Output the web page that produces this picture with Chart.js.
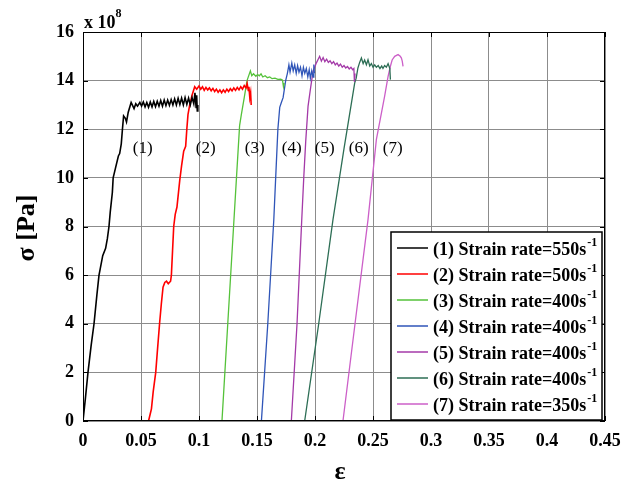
<!DOCTYPE html>
<html>
<head>
<meta charset="utf-8">
<script src="https://cdn.jsdelivr.net/npm/chart.js@4.4.1/dist/chart.umd.min.js"></script>
<style>
body { margin: 0; background: #fff; }
#wrap { width: 634px; height: 486px; }
</style>
</head>
<body>
<div id="wrap"><canvas id="stressChart" width="634" height="486"></canvas></div>
<script>
// strain / stress (x 1e8 Pa) for each test
const curve1 = [[0,0],[0.002,0.9],[0.0043,2.0],[0.007,3.1],[0.0095,4.0],[0.012,5.2],[0.0138,6.0],[0.015,6.3],[0.017,6.8],[0.0195,7.1],[0.021,7.5],[0.0224,8.0],[0.0235,8.6],[0.0253,9.4],[0.026,10.0],[0.028,10.4],[0.0305,10.9],[0.0316,11.0],[0.033,11.4],[0.034,12.0],[0.035,12.55],[0.0365,12.45],[0.0375,12.3],[0.039,12.7],[0.0415,13.1],[0.0425,13.0],[0.044,12.85],[0.0455,13.05],[0.047,12.95],[0.049,13.1],[0.0505,12.95],[0.052,13.12],[0.0535,12.92],[0.055,13.1],[0.0565,12.9],[0.058,13.12],[0.0595,12.92],[0.061,13.15],[0.0625,12.93],[0.064,13.15],[0.0655,12.95],[0.067,13.18],[0.0685,12.95],[0.07,13.2],[0.0715,12.97],[0.073,13.2],[0.0745,12.98],[0.076,13.22],[0.0775,13.0],[0.079,13.25],[0.0805,13.0],[0.082,13.27],[0.0835,13.02],[0.085,13.28],[0.0865,13.0],[0.088,13.3],[0.0895,13.02],[0.091,13.28],[0.0925,13.0],[0.094,13.3],[0.0955,13.05],[0.0965,13.5],[0.0975,12.9],[0.098,13.4],[0.0985,12.75],[0.099,13.0]];
const curve2 = [[0.0565,0],[0.058,0.3],[0.059,0.5],[0.0605,1.2],[0.0627,2.0],[0.064,2.8],[0.066,4.0],[0.0675,4.8],[0.069,5.5],[0.0705,5.7],[0.072,5.75],[0.0735,5.65],[0.0755,5.75],[0.0762,6.0],[0.0772,7.0],[0.0782,8.0],[0.0795,8.5],[0.081,8.8],[0.0834,9.9],[0.085,10.5],[0.0868,11.1],[0.0885,11.3],[0.0895,12.0],[0.0905,12.6],[0.092,13.0],[0.094,13.4],[0.0963,13.75],[0.098,13.65],[0.1,13.78],[0.1015,13.65],[0.103,13.75],[0.1045,13.6],[0.106,13.72],[0.1075,13.62],[0.109,13.7],[0.1105,13.58],[0.112,13.68],[0.1135,13.55],[0.115,13.65],[0.1165,13.52],[0.118,13.62],[0.1195,13.5],[0.121,13.62],[0.1225,13.52],[0.124,13.65],[0.1255,13.55],[0.127,13.67],[0.1285,13.58],[0.13,13.7],[0.1315,13.6],[0.133,13.72],[0.1345,13.62],[0.136,13.75],[0.1375,13.65],[0.139,13.8],[0.1405,13.7],[0.1415,13.88],[0.1425,13.6],[0.143,13.75],[0.1438,13.3],[0.1445,13.5],[0.145,13.0]];
const curve3 = [[0.1198,0],[0.1248,4],[0.1298,8],[0.1323,10],[0.135,12.15],[0.1365,12.6],[0.139,13.3],[0.1414,14.0],[0.1443,14.4],[0.1455,14.2],[0.147,14.28],[0.149,14.18],[0.1505,14.25],[0.152,14.2],[0.1535,14.28],[0.155,14.15],[0.157,14.2],[0.159,14.12],[0.161,14.15],[0.163,14.08],[0.1655,14.1],[0.168,14.05],[0.1705,14.06],[0.172,14.02],[0.1728,13.75],[0.1735,13.9]];
const curve4 = [[0.1538,0],[0.1593,4],[0.1645,8.3],[0.1661,10],[0.168,12.0],[0.1696,12.9],[0.171,13.1],[0.1725,13.3],[0.1747,14.0],[0.1762,14.3],[0.1775,14.65],[0.1785,14.35],[0.18,14.72],[0.1812,14.4],[0.1825,14.65],[0.1838,14.3],[0.185,14.62],[0.1862,14.35],[0.1875,14.55],[0.1888,14.2],[0.19,14.55],[0.1912,14.3],[0.1925,14.5],[0.1938,14.15],[0.195,14.45],[0.196,14.1],[0.1972,14.4],[0.1983,14.15],[0.199,14.66],[0.1995,14.3]];
const curve5 = [[0.1796,0],[0.1845,4],[0.1885,8.2],[0.1903,10],[0.192,11.5],[0.194,12.94],[0.1962,13.7],[0.1983,14.38],[0.2012,14.73],[0.204,15.0],[0.2055,14.8],[0.207,14.95],[0.2085,14.78],[0.21,14.88],[0.2115,14.75],[0.213,14.82],[0.2145,14.7],[0.216,14.78],[0.2175,14.65],[0.219,14.72],[0.2205,14.6],[0.222,14.68],[0.2235,14.55],[0.225,14.62],[0.2265,14.52],[0.228,14.58],[0.2295,14.48],[0.231,14.55],[0.2325,14.45],[0.2335,14.5],[0.234,13.95],[0.2345,14.3]];
const curve6 = [[0.1911,0],[0.2032,4],[0.2155,8.28],[0.225,11.2],[0.2342,13.9],[0.2355,14.1],[0.237,14.52],[0.2385,14.75],[0.24,14.93],[0.2415,14.7],[0.2428,14.85],[0.2443,14.65],[0.2457,14.86],[0.2472,14.6],[0.2486,14.7],[0.25,14.55],[0.2515,14.65],[0.2529,14.55],[0.2545,14.62],[0.256,14.5],[0.2575,14.6],[0.2586,14.5],[0.26,14.62],[0.2615,14.55],[0.263,14.7],[0.2645,14.5],[0.265,14.04]];
const curve7 = [[0.2241,0],[0.2345,4],[0.2457,8.28],[0.2529,11.57],[0.26,13.35],[0.263,14.17],[0.265,14.59],[0.2665,14.85],[0.2687,15.0],[0.2716,15.07],[0.2735,15.0],[0.2745,14.93],[0.2752,14.8],[0.2759,14.59]];

const curves = [curve1, curve2, curve3, curve4, curve5, curve6, curve7];
const colors = ['#000000', '#ff0000', '#55c23a', '#2f55b8', '#a43aa8', '#2d6e55', '#cc5fc8'];
const widths = [1.6, 1.6, 1.3, 1.3, 1.3, 1.3, 1.3];
const legendLabels = ['(1) Strain rate=550s', '(2) Strain rate=500s', '(3) Strain rate=400s', '(4) Strain rate=400s', '(5) Strain rate=400s', '(6) Strain rate=400s', '(7) Strain rate=350s'];

// curve tags placed inside the plot
const tagText = ['(1)', '(2)', '(3)', '(4)', '(5)', '(6)', '(7)'];
const tagX = [0.0515, 0.1058, 0.148, 0.1799, 0.2084, 0.2377, 0.267];
const tagY = 11.2;

const xTicks = [0, 0.05, 0.1, 0.15, 0.2, 0.25, 0.3, 0.35, 0.4, 0.45];
const xTickLabels = ['0', '0.05', '0.1', '0.15', '0.2', '0.25', '0.3', '0.35', '0.4', '0.45'];
const yTicks = [0, 2, 4, 6, 8, 10, 12, 14, 16];

const serif = '"Liberation Serif", "Times New Roman", serif';

const decorations = {
    id: 'decorations',
    afterDraw(chart) {
        const ctx = chart.ctx;
        const area = chart.chartArea;
        const xs = chart.scales.x;
        const ys = chart.scales.y;
        ctx.save();

        // box around the plot with inward ticks
        ctx.strokeStyle = '#000';
        ctx.lineWidth = 1;
        ctx.strokeRect(area.left + 0.5, area.top + 0.5, area.right - area.left - 1, area.bottom - area.top - 1);
        ctx.beginPath();
        xTicks.forEach(v => {
            const px = Math.round(xs.getPixelForValue(v)) + 0.5;
            ctx.moveTo(px, area.bottom); ctx.lineTo(px, area.bottom - 5);
            ctx.moveTo(px, area.top); ctx.lineTo(px, area.top + 5);
        });
        yTicks.forEach(v => {
            const py = Math.round(ys.getPixelForValue(v)) + 0.5;
            ctx.moveTo(area.left, py); ctx.lineTo(area.left + 5, py);
            ctx.moveTo(area.right, py); ctx.lineTo(area.right - 5, py);
        });
        ctx.stroke();

        // curve tags
        ctx.fillStyle = '#000';
        ctx.font = '17px ' + serif;
        ctx.textAlign = 'center';
        ctx.textBaseline = 'middle';
        tagText.forEach((t, i) => {
            ctx.fillText(t, xs.getPixelForValue(tagX[i]), ys.getPixelForValue(tagY));
        });

        // exponent above the y axis
        ctx.textAlign = 'left';
        ctx.textBaseline = 'alphabetic';
        ctx.font = 'bold 18px ' + serif;
        ctx.fillText('x 10', area.left + 1, 28);
        const w = ctx.measureText('x 10').width;
        ctx.font = 'bold 12px ' + serif;
        ctx.fillText('8', area.left + 1 + w, 17);

        // axis titles
        ctx.font = 'bold 26px ' + serif;
        ctx.textAlign = 'center';
        ctx.textBaseline = 'middle';
        ctx.fillText('\u03b5', 340, 472);
        ctx.save();
        ctx.translate(27, 228);
        ctx.rotate(-Math.PI / 2);
        ctx.fillText('\u03c3 [Pa]', 0, 0);
        ctx.restore();

        // legend box
        const lx = 391, ly = 232, lw = 211, lh = 188;
        ctx.fillStyle = '#fff';
        ctx.fillRect(lx, ly, lw, lh);
        ctx.strokeStyle = '#000';
        ctx.lineWidth = 1.5;
        ctx.strokeRect(lx, ly, lw, lh);
        ctx.textAlign = 'left';
        legendLabels.forEach((label, i) => {
            const ry = ly + 16 + i * 26;
            ctx.strokeStyle = colors[i];
            ctx.lineWidth = 1.5;
            ctx.beginPath();
            ctx.moveTo(lx + 6, ry); ctx.lineTo(lx + 37, ry);
            ctx.stroke();
            ctx.fillStyle = '#000';
            ctx.font = 'bold 18px ' + serif;
            ctx.textBaseline = 'middle';
            ctx.fillText(label, lx + 42, ry + 2);
            const lwid = ctx.measureText(label).width;
            ctx.font = 'bold 12px ' + serif;
            ctx.fillText('-1', lx + 43 + lwid, ry - 5);
        });

        ctx.restore();
    }
};

const ctx = document.getElementById('stressChart').getContext('2d');
const chart = new Chart(ctx, {
    type: 'scatter',
    data: {
        datasets: curves.map((c, i) => ({
            label: legendLabels[i],
            data: c.map(p => ({ x: p[0], y: p[1] })),
            showLine: true,
            borderColor: colors[i],
            borderWidth: widths[i],
            pointRadius: 0,
            tension: 0
        }))
    },
    options: {
        responsive: false,
        animation: false,
        devicePixelRatio: 1,
        layout: { padding: { top: 32, right: 29, left: 0, bottom: 0 } },
        plugins: {
            legend: { display: false },
            tooltip: { enabled: false }
        },
        scales: {
            x: {
                type: 'linear',
                min: 0,
                max: 0.45,
                afterBuildTicks: s => { s.ticks = xTicks.map(v => ({ value: v })); },
                afterFit: s => { s.height = 65; },
                grid: { color: '#8c8c8c', drawTicks: false },
                border: { display: false },
                ticks: {
                    padding: 10,
                    color: '#000',
                    font: { family: serif, size: 18, weight: 'bold' },
                    callback: (v, i) => xTickLabels[i]
                }
            },
            y: {
                type: 'linear',
                min: 0,
                max: 16,
                afterBuildTicks: s => { s.ticks = yTicks.map(v => ({ value: v })); },
                afterFit: s => { s.width = 83; },
                grid: { color: '#8c8c8c', drawTicks: false },
                border: { display: false },
                ticks: {
                    padding: 9,
                    color: '#000',
                    font: { family: serif, size: 18, weight: 'bold' },
                    callback: v => String(v)
                }
            }
        }
    },
    plugins: [decorations]
});
</script>
</body>
</html>
